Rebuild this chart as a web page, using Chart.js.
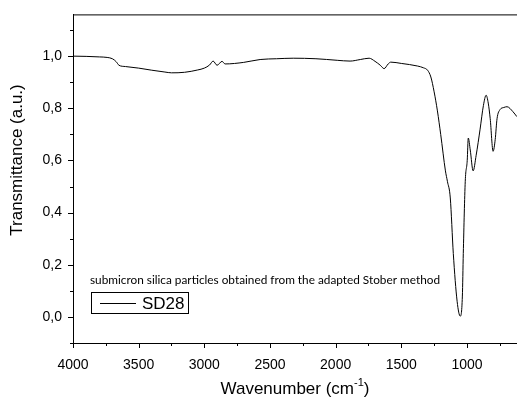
<!DOCTYPE html>
<html>
<head>
<meta charset="utf-8">
<script src="https://cdn.jsdelivr.net/npm/chart.js@4.4.0/dist/chart.umd.min.js"></script>
<style>
    body { margin: 0; background: #fff; }
    canvas { display: block; }
</style>
</head>
<body>
<canvas id="myChart" width="517" height="401"></canvas>
<script>
// FTIR spectrum
let wavenumbers = [4000, 3900, 3800, 3740, 3700, 3670, 3650, 3600, 3500, 3400, 3300, 3250, 3150, 3050, 3000,
    2960, 2933, 2903, 2865, 2842, 2700, 2575, 2450, 2323, 2150, 1988, 1890, 1812, 1745, 1700, 1660, 1631,
    1600, 1580, 1500, 1376, 1330, 1300, 1275, 1250, 1225, 1200, 1164, 1149, 1127, 1104, 1075, 1051,
    1035, 1028, 1013, 998, 990, 975, 953, 930, 900, 875, 854, 838, 823, 801, 785, 771, 748, 720, 695, 650, 620];
let transmittance = [1.000, 0.999, 0.997, 0.995, 0.990, 0.978, 0.965, 0.960, 0.954, 0.946, 0.939, 0.936, 0.938, 0.947, 0.954,
    0.966, 0.981, 0.965, 0.980, 0.970, 0.976, 0.987, 0.990, 0.992, 0.990, 0.984, 0.981, 0.987, 0.992, 0.980, 0.965, 0.952,
    0.970, 0.977, 0.972, 0.962, 0.955, 0.946, 0.920, 0.863, 0.790, 0.700, 0.560, 0.520, 0.456, 0.243, 0.060, 0.003,
    0.080, 0.243, 0.520, 0.600, 0.686, 0.640, 0.560, 0.620, 0.720, 0.810, 0.850, 0.820, 0.760, 0.635, 0.680, 0.760, 0.795, 0.803, 0.806, 0.787, 0.768];
let xTicks = [4000, 3750, 3500, 3250, 3000, 2750, 2500, 2250, 2000, 1750, 1500, 1250, 1000, 750];
let yTicks = [-0.1, 0.0, 0.1, 0.2, 0.3, 0.4, 0.5, 0.6, 0.7, 0.8, 0.9, 1.0, 1.1];
let seriesName = 'SD28';
let noteText = 'submicron silica particles obtained from the adapted Stober method';

let points = wavenumbers.map((w, i) => ({ x: w, y: transmittance[i] }));

function isMajorY(v) { return Math.round(v * 10) % 2 == 0; }
function isMajorX(v) { return v % 500 == 0; }

// ticks, frame line, axis titles, note and legend box
const extras = {
    id: 'extras',
    afterDraw(chart) {
        const ctx = chart.ctx;
        const area = chart.chartArea;
        const xs = chart.scales.x;
        const ys = chart.scales.y;
        ctx.save();
        ctx.strokeStyle = '#000';
        ctx.lineWidth = 1;
        ctx.beginPath();
        ctx.moveTo(area.left, area.top + 0.5);
        ctx.lineTo(area.right, area.top + 0.5);
        xTicks.forEach(v => {
            let px = Math.round(xs.getPixelForValue(v)) + 0.5;
            let len = isMajorX(v) ? 5 : 3;
            ctx.moveTo(px, area.bottom);
            ctx.lineTo(px, area.bottom + len);
        });
        yTicks.forEach(v => {
            let py = Math.round(ys.getPixelForValue(v)) + 0.5;
            let len = isMajorY(v) ? 5 : 3;
            ctx.moveTo(area.left, py);
            ctx.lineTo(area.left - len, py);
        });
        ctx.stroke();

        ctx.fillStyle = '#000';
        // y title
        ctx.save();
        ctx.translate(17, 160);
        ctx.rotate(-Math.PI / 2);
        ctx.font = '17px "Liberation Sans", Arial, sans-serif';
        ctx.textAlign = 'center';
        ctx.textBaseline = 'middle';
        ctx.fillText('Transmittance (a.u.)', 0, 0);
        ctx.restore();

        // x title with superscript
        ctx.font = '17px "Liberation Sans", Arial, sans-serif';
        ctx.textBaseline = 'middle';
        let main = 'Wavenumber (cm';
        let sup = '-1';
        let close = ')';
        let wMain = ctx.measureText(main).width;
        let wClose = ctx.measureText(close).width;
        ctx.font = '11px "Liberation Sans", Arial, sans-serif';
        let wSup = ctx.measureText(sup).width;
        let total = wMain + wSup + wClose;
        let tx = (area.left + area.right) / 2 - total / 2;
        let ty = 389;
        ctx.textAlign = 'left';
        ctx.font = '17px "Liberation Sans", Arial, sans-serif';
        ctx.fillText(main, tx, ty);
        ctx.font = '11px "Liberation Sans", Arial, sans-serif';
        ctx.fillText(sup, tx + wMain, ty - 6);
        ctx.font = '17px "Liberation Sans", Arial, sans-serif';
        ctx.fillText(close, tx + wMain + wSup, ty);

        // note above legend
        ctx.font = '11.8px Lato, "Open Sans", sans-serif';
        ctx.fillText(noteText, 90, 280);

        // legend box
        ctx.strokeRect(91.5, 292.5, 97, 21);
        ctx.beginPath();
        ctx.moveTo(100, 303.5);
        ctx.lineTo(136, 303.5);
        ctx.stroke();
        ctx.font = '17px "Liberation Sans", Arial, sans-serif';
        ctx.fillText(seriesName, 142, 304);
        ctx.restore();
    }
};

const data = {
    datasets: [{
        label: seriesName,
        data: points,
        borderColor: '#000',
        borderWidth: 1,
        pointRadius: 0,
        cubicInterpolationMode: 'monotone',
        fill: false
    }]
};

const config = {
    type: 'line',
    data: data,
    options: {
        responsive: false,
        animation: false,
        layout: { padding: { top: 12, right: 0, left: 0, bottom: 0 } },
        plugins: {
            legend: { display: false },
            tooltip: { enabled: false }
        },
        scales: {
            x: {
                type: 'linear',
                reverse: true,
                min: 619,
                max: 4000,
                afterBuildTicks: scale => { scale.ticks = xTicks.map(v => ({ value: v })); },
                afterFit: scale => { scale.height = 58; },
                ticks: {
                    autoSkip: false,
                    maxRotation: 0,
                    padding: 9,
                    color: '#000',
                    font: { family: '"Liberation Sans", Arial, sans-serif', size: 14 },
                    callback: v => isMajorX(v) ? String(v) : ''
                },
                grid: { drawOnChartArea: false, color: 'transparent', tickLength: 5 },
                border: { display: true, color: '#000', width: 1 }
            },
            y: {
                min: -0.1,
                max: 1.16,
                afterBuildTicks: scale => { scale.ticks = yTicks.map(v => ({ value: v })); },
                afterFit: scale => { scale.width = 73; },
                ticks: {
                    autoSkip: false,
                    padding: 6,
                    color: '#000',
                    font: { family: '"Liberation Sans", Arial, sans-serif', size: 14 },
                    callback: v => isMajorY(v) ? v.toFixed(1).replace('.', ',') : ''
                },
                grid: { drawOnChartArea: false, color: 'transparent', tickLength: 5 },
                border: { display: true, color: '#000', width: 1 }
            }
        }
    },
    plugins: [extras]
};

const myChart = new Chart(
    document.getElementById('myChart'),
    config
);
</script>
</body>
</html>
